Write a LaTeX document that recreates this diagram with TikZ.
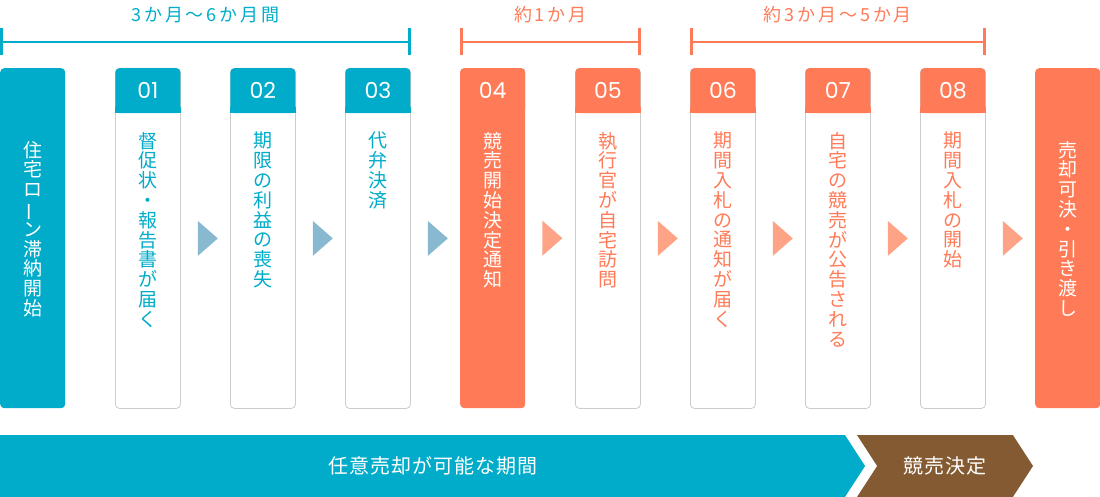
\documentclass[tikz,border=0pt]{standalone}
\usepackage{fontspec}
\setmainfont{Noto Sans CJK JP}
\newfontfamily\numfont{Poppins}
\newfontfamily\spacedfont[LetterSpace=16]{Noto Sans CJK JP}
\newfontfamily\barfont[LetterSpace=5]{Noto Sans CJK JP}
\usetikzlibrary{arrows.meta, positioning, calc, shapes.symbols}
\definecolor{cblue}{HTML}{00ACC9}
\definecolor{corange}{HTML}{FF7B57}
\definecolor{ctriblue}{HTML}{89B9D0}
\definecolor{ctriorange}{HTML}{FFA387}
\definecolor{cbrown}{HTML}{835A31}
\definecolor{cline}{HTML}{CCCCCC}
\newcommand{\vbar}{\rotatebox[origin=c]{90}{ー}}
\tikzset{
  colbox/.style={draw=cline, fill=white, line width=0.8pt, rounded corners=4pt, minimum width=65pt, minimum height=340pt, anchor=north west, inner sep=0pt},
  bigbox/.style={fill=#1, rounded corners=4pt, minimum width=65pt, minimum height=340pt, anchor=north west, inner sep=0pt},
  head/.style={fill=#1, rounded corners=4pt, minimum width=65pt, minimum height=45pt, anchor=north, inner sep=0pt, text=white, font=\numfont\fontsize{22}{22}\selectfont,
    append after command={\pgfextra{\fill[#1, sharp corners] ([yshift=6pt]\tikzlastnode.south west) rectangle (\tikzlastnode.south east);}}},
  vtext/.style={text=#1, anchor=north, align=center, inner sep=0pt, font=\fontsize{19}{19.8}\selectfont},
  span/.style={draw=#1, line width=2.5pt, {Bar[width=27pt]}-{Bar[width=27pt]}},
  spanlabel/.style={text=#1, font=\spacedfont\fontsize{18}{18}\selectfont},
  bar/.style={shape=signal, fill=#1, text=white, minimum height=62pt, inner sep=0pt, signal pointer angle=114, font=\barfont\fontsize{20}{20}\selectfont},
  nexttri/.pic={\fill (0,-17.5) -- (0,17.5) -- (20,0) -- cycle;},
}

\begin{document}
\begin{tikzpicture}[x=1pt, y=-1pt]
  \useasboundingbox (0,0) rectangle (1100,497);
  % columns
  \node[bigbox=cblue] (start) at (0,68) {};
  \node[colbox] (s1) at (115,68) {};
  \node[colbox] (s2) at (230,68) {};
  \node[colbox] (s3) at (345,68) {};
  \node[bigbox=corange] (s4) at (460,68) {};
  \node[colbox] (s5) at (575,68) {};
  \node[colbox] (s6) at (690,68) {};
  \node[colbox] (s7) at (805,68) {};
  \node[colbox] (s8) at (920,68) {};
  \node[bigbox=corange] (sale) at (1035,68) {};
  % step numbers
  \node[head=cblue] (h1) at (s1.north) {01};
  \node[head=cblue] (h2) at (s2.north) {02};
  \node[head=cblue] (h3) at (s3.north) {03};
  \node[head=corange] (h4) at (s4.north) {04};
  \node[head=corange] (h5) at (s5.north) {05};
  \node[head=corange] (h6) at (s6.north) {06};
  \node[head=corange] (h7) at (s7.north) {07};
  \node[head=corange] (h8) at (s8.north) {08};
  % vertical texts
  \node[vtext=white] (tstart) at ([yshift=-73pt]start.north) {住\\宅\\ロ\\\vbar\\ン\\滞\\納\\開\\始};
  \node[vtext=cblue] (t1) at ([yshift=-64pt]s1.north) {督\\促\\状\\・\\報\\告\\書\\が\\届\\く};
  \node[vtext=cblue] (t2) at ([yshift=-64pt]s2.north) {期\\限\\の\\利\\益\\の\\喪\\失};
  \node[vtext=cblue] (t3) at ([yshift=-64pt]s3.north) {代\\弁\\決\\済};
  \node[vtext=white] (t4) at ([yshift=-64pt]s4.north) {競\\売\\開\\始\\決\\定\\通\\知};
  \node[vtext=corange] (t5) at ([yshift=-64pt]s5.north) {執\\行\\官\\が\\自\\宅\\訪\\問};
  \node[vtext=corange] (t6) at ([yshift=-64pt]s6.north) {期\\間\\入\\札\\の\\通\\知\\が\\届\\く};
  \node[vtext=corange] (t7) at ([yshift=-64pt]s7.north) {自\\宅\\の\\競\\売\\が\\公\\告\\さ\\れ\\る};
  \node[vtext=corange] (t8) at ([yshift=-64pt]s8.north) {期\\間\\入\\札\\の\\開\\始};
  \node[vtext=white] (tsale) at ([yshift=-73pt]sale.north) {売\\却\\可\\決\\・\\引\\き\\渡\\し};
  % arrows between steps
  \pic[ctriblue] at ([xshift=17pt]s1.east) {nexttri};
  \pic[ctriblue] at ([xshift=17pt]s2.east) {nexttri};
  \pic[ctriblue] at ([xshift=17pt]s3.east) {nexttri};
  \pic[ctriorange] at ([xshift=17pt]s4.east) {nexttri};
  \pic[ctriorange] at ([xshift=17pt]s5.east) {nexttri};
  \pic[ctriorange] at ([xshift=17pt]s6.east) {nexttri};
  \pic[ctriorange] at ([xshift=17pt]s7.east) {nexttri};
  \pic[ctriorange] at ([xshift=17pt]s8.east) {nexttri};
  % periods
  \draw[span=cblue] ([yshift=26pt]start.north west) -- ([yshift=26pt]s3.north east) node[midway, yshift=27pt, spanlabel=cblue] (p1) {3か月～6か月間};
  \draw[span=corange] ([yshift=26pt]s4.north west) -- ([yshift=26pt]s5.north east) node[midway, yshift=27pt, spanlabel=corange] (p2) {約1か月};
  \draw[span=corange] ([yshift=26pt]s6.north west) -- ([yshift=26pt]s8.north east) node[midway, yshift=27pt, spanlabel=corange] (p3) {約3か月～5か月};
  % bottom bar
  \node[bar=cblue, signal to=east, minimum width=865pt] (avail) at (422.5,466) {\hspace*{20pt}任意売却が可能な期間};
  \node[bar=cbrown, signal from=west, signal to=east, minimum width=176pt] (decided) at (945,466) {競売決定};
\end{tikzpicture}
\end{document}
